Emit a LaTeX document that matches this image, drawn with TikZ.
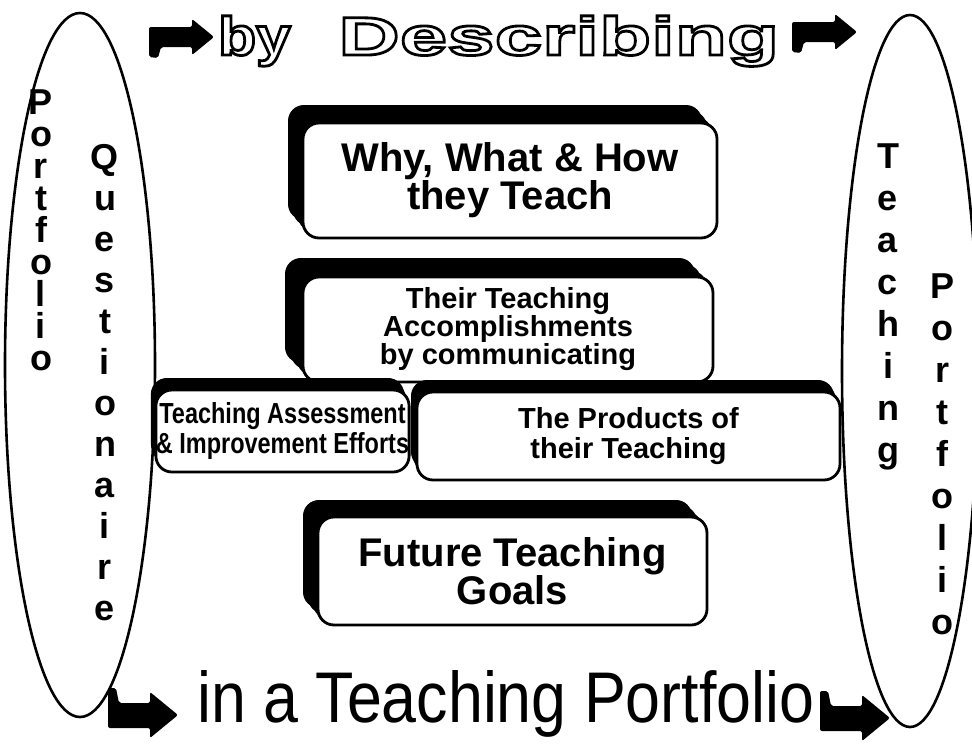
\documentclass[tikz,border=0pt]{standalone}
\usepackage{fontspec}
\usepackage{graphicx}
\setmainfont{Liberation Sans}
\newfontfamily\byfont{Liberation Sans}[FakeStretch=1.15]
\newfontfamily\descfont{Liberation Sans}[FakeStretch=1.58]
\usetikzlibrary{shadows}
\newcommand\outl[1]{\special{pdf:literal direct 1 1 1 rg 0 0 0 RG 2 Tr 2.8 w}#1\special{pdf:literal direct 0 0 0 rg 0 0 0 RG 0 Tr}}
\begin{document}
\begin{tikzpicture}[x=1pt,y=-1pt,
  box/.style={draw, line width=2.8pt, rounded corners=16pt, fill=white, align=center, inner sep=0pt},
  extr/.style 2 args={
    drop shadow={shadow xshift={#1*0.33pt}, shadow yshift={#2*0.33pt}, fill=black, opacity=1},
    drop shadow={shadow xshift={#1*0.67pt}, shadow yshift={#2*0.67pt}, fill=black, opacity=1},
    drop shadow={shadow xshift={#1*1pt}, shadow yshift={#2*1pt}, fill=black, opacity=1}},
  col/.style={align=center, inner sep=0pt, font=\bfseries\fontsize{36}{#1}\selectfont},
  ell/.style={draw, line width=2.6pt},
  blk/.style={fill=black, rounded corners=2pt}]
\useasboundingbox (0,0) rectangle (972,744);
\clip (0,0) rectangle (972,744);
\fill[white] (0,0) rectangle (972,744);

% ellipses
\draw[ell] (80,365) ellipse [x radius=75pt, y radius=352pt];
\draw[ell] (910,371) ellipse [x radius=68pt, y radius=356pt];

% vertical words
\node[col=32] (lport) at (41,230) {P\\o\\r\\t\\f\\o\\l\\i\\o};
\node[col=41] (quest) at (105,383) {Q\\u\\e\\s\\t\\i\\o\\n\\a\\i\\r\\e};
\node[col=42] (rteach) at (888,307) {T\\e\\a\\c\\h\\i\\n\\g};
\node[col=42] (rport) at (942,454) {P\\o\\r\\t\\f\\o\\l\\i\\o};

% boxes
\node[box, extr={-15}{18}, minimum width=414pt, minimum height=115pt,
  font=\bfseries\fontsize{40}{35}\selectfont] (why) at (510,180.5) {Why, What \& How\\they Teach};
\node[box, extr={-18}{19}, minimum width=410pt, minimum height=105pt,
  font=\bfseries\fontsize{29}{28}\selectfont] (acc) at (508,329.5) {Their Teaching\\Accomplishments\\by communicating};
\node[box, extr={-5}{12}, minimum width=249pt, minimum height=82pt,
  font=\bfseries\fontsize{29}{30}\selectfont] (assess) at (282.5,431)
  {\scalebox{0.81}[1]{Teaching Assessment}\\\scalebox{0.81}[1]{\& Improvement Efforts}};
\node[box, extr={-6}{12}, minimum width=423pt, minimum height=88pt,
  font=\bfseries\fontsize{29}{30}\selectfont] (prod) at (628.5,436) {The Products of\\their Teaching};
\node[box, extr={-15}{17}, minimum width=389pt, minimum height=108pt,
  font=\bfseries\fontsize{40}{35}\selectfont] (goals) at (512.5,571) {Future Teaching\\Goals};

% title texts
\node[anchor=base west, inner sep=0pt, font=\byfont\bfseries\fontsize{54}{54}\selectfont] (by) at (218,55) {\outl{by}};
\node[anchor=base west, inner sep=0pt, font=\descfont\bfseries\fontsize{54}{54}\selectfont] (desc) at (338,55) {\outl{Describing}};
\node[anchor=base west, inner sep=0pt] (inport) at (197,722)
  {\resizebox{617pt}{52pt}{in a Teaching Portfolio}};

% arrows
\foreach \ox/\oy in {149/27, 792/22}{
  \fill[blk, shift={(\ox,\oy)}] (0,30) -- (0,0) -- (43,0) -- (43,-8) -- (65,10) -- (43,28) -- (43,20) -- (12,20) -- (9,31) -- cycle;
}
\foreach \ox/\oy in {108/728, 820/731}{
  \fill[blk, shift={(\ox,\oy)}] (0,-40) -- (0,0) -- (42,0) -- (42,10) -- (70,-13) -- (42,-36) -- (42,-25) -- (11,-25) -- (8,-40) -- cycle;
}
\end{tikzpicture}
\end{document}
